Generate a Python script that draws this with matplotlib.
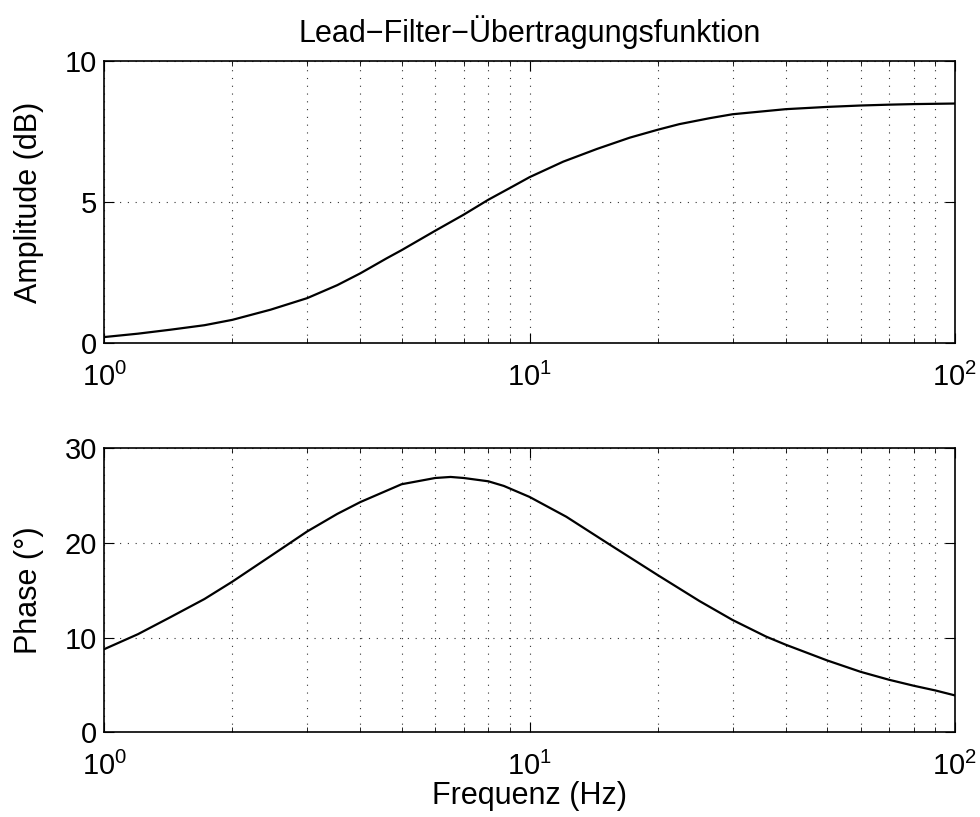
import math
import matplotlib
matplotlib.use("Agg")
import matplotlib.pyplot as plt
from matplotlib.ticker import FixedLocator, FuncFormatter, LogLocator, NullFormatter

plt.rcParams['font.family'] = ['Liberation Sans', 'DejaVu Sans']
plt.rcParams['mathtext.fontset'] = 'custom'
plt.rcParams['mathtext.rm'] = 'Liberation Sans'

# values
freq_mag = [1, 1.2, 1.43, 1.72, 2, 2.46, 3, 3.53, 4, 4.61, 5, 6, 7, 8, 9, 10,
            12, 14.4, 17.2, 20, 22.5, 26.5, 30, 40, 50, 60, 70, 80, 100]
mag_db = [0.21, 0.33, 0.47, 0.63, 0.82, 1.18, 1.59, 2.05, 2.47, 3.0, 3.29, 3.98,
          4.55, 5.08, 5.5, 5.88, 6.43, 6.88, 7.28, 7.56, 7.76, 7.97, 8.11, 8.29,
          8.37, 8.42, 8.45, 8.47, 8.49]

freq_phase = [1, 1.2, 1.43, 1.72, 2, 2.46, 3, 3.53, 4, 5, 6, 6.52, 7, 8, 8.7, 10,
              12.2, 15.2, 20, 25.1, 30, 36, 40, 50, 60, 70, 80, 90, 100]
phase_deg = [8.78, 10.36, 12.15, 14.07, 15.9, 18.6, 21.2, 23.05, 24.3, 26.18,
             26.84, 26.95, 26.84, 26.49, 26.0, 24.84, 22.75, 20.0, 16.6, 13.85,
             11.86, 10.1, 9.25, 7.6, 6.39, 5.55, 4.92, 4.42, 3.9]

title = "Lead\u2212Filter\u2212\u00dcbertragungsfunktion"
fs = 21
fs_lab = 22

fig = plt.figure(figsize=(9.8, 8.17), dpi=100)
ax1 = fig.add_axes([0.1064, 0.5802, 0.868, 0.3452])
ax2 = fig.add_axes([0.1064, 0.1036, 0.868, 0.3480])

dots = (0, (1, 6))


def style(ax, yticks):
    ax.set_xscale('log')
    ax.set_xlim(1, 100)
    ax.set_ylim(yticks[0], yticks[-1])
    ax.yaxis.set_major_locator(FixedLocator(yticks))
    ax.xaxis.set_major_locator(LogLocator(base=10, numticks=10))
    ax.xaxis.set_minor_locator(LogLocator(base=10, subs=range(2, 10), numticks=10))
    ax.xaxis.set_minor_formatter(NullFormatter())
    ax.xaxis.set_major_formatter(FuncFormatter(lambda v, p: r'$10^{%d}$' % round(math.log10(v))))
    ax.tick_params(which='both', direction='in', top=True, right=True, labelsize=fs)
    ax.tick_params(which='major', length=7, width=0.8)
    ax.tick_params(which='minor', length=3.5, width=0.6)
    ax.tick_params(axis='y', pad=5)
    ax.tick_params(axis='x', pad=14)
    ax.grid(True, which='major', axis='both', linestyle=dots, color='0.2', linewidth=0.8)
    ax.grid(True, which='minor', axis='x', linestyle=dots, color='0.2', linewidth=0.8)
    for s in ax.spines.values():
        s.set_linewidth(1.2)


ax1.plot(freq_mag, mag_db, color='black', linewidth=1.6)
style(ax1, [0, 5, 10])
ax1.set_title(title, fontsize=fs_lab, pad=14)
ax1.set_ylabel("Amplitude (dB)", fontsize=fs_lab)
ax1.yaxis.set_label_coords(-0.071, 0.5)

ax2.plot(freq_phase, phase_deg, color='black', linewidth=1.6)
style(ax2, [0, 10, 20, 30])
ax2.set_ylabel("Phase (\u00b0)", fontsize=fs_lab)
ax2.yaxis.set_label_coords(-0.071, 0.5)
ax2.set_xlabel("Frequenz (Hz)", fontsize=fs_lab, labelpad=0)

fig.savefig("out.png", dpi=100)
